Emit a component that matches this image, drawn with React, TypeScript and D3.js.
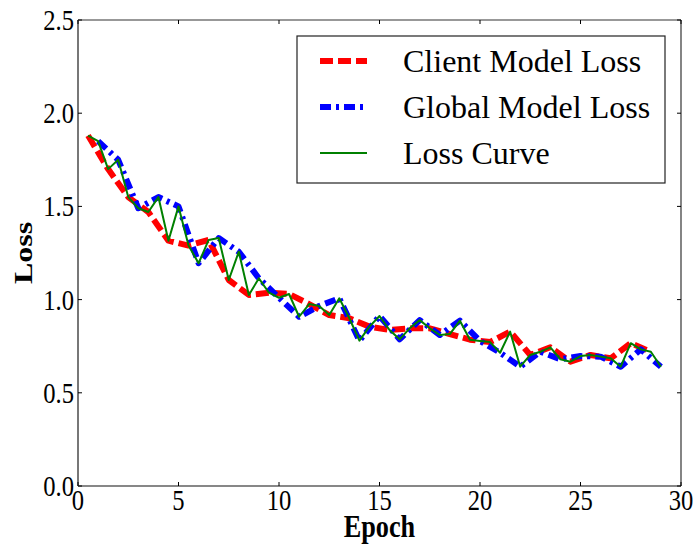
import React from "react";
import * as d3 from "d3";

// Loss recorded at the half-epochs (client) and at the whole epochs (global aggregation)
const clientEpochs = [0.5, 1.5, 2.5, 3.5, 4.5, 5.5, 6.5, 7.5, 8.5, 9.5, 10.5, 11.5, 12.5, 13.5, 14.5, 15.5, 16.5, 17.5, 18.5, 19.5, 20.5, 21.5, 22.5, 23.5, 24.5, 25.5, 26.5, 27.5, 28.5];
const clientLoss = [1.88, 1.7, 1.55, 1.47, 1.316, 1.29, 1.32, 1.105, 1.025, 1.037, 1.03, 0.976, 0.917, 0.9, 0.855, 0.837, 0.846, 0.846, 0.815, 0.785, 0.772, 0.828, 0.703, 0.744, 0.667, 0.703, 0.685, 0.766, 0.72];
const globalEpochs = [1, 2, 3, 4, 5, 6, 7, 8, 9, 10, 11, 12, 13, 14, 15, 16, 17, 18, 19, 20, 21, 22, 23, 24, 25, 26, 27, 28, 29];
const globalLoss = [1.85, 1.75, 1.49, 1.55, 1.5, 1.195, 1.33, 1.257, 1.114, 1.01, 0.908, 0.966, 1.007, 0.78, 0.912, 0.787, 0.89, 0.81, 0.887, 0.778, 0.715, 0.64, 0.72, 0.68, 0.697, 0.694, 0.64, 0.733, 0.64];

const xTicks = [0, 5, 10, 15, 20, 25, 30];
const yTicks = [0, 0.5, 1.0, 1.5, 2.0, 2.5];

const seriesNames = ["Client Model Loss", "Global Model Loss", "Loss Curve"];

type Pt = [number, number];

const W = 698;
const H = 547;
const M = { left: 78, right: 681, top: 20, bottom: 486 };
const FONT = "'Liberation Serif', 'Times New Roman', serif";

export default function App() {
  const x = d3.scaleLinear().domain([0, 30]).range([M.left, M.right]);
  const y = d3.scaleLinear().domain([0, 2.5]).range([M.bottom, M.top]);
  const line = d3
    .line<Pt>()
    .x((d) => x(d[0]))
    .y((d) => y(d[1]));

  const client: Pt[] = clientEpochs.map((e, i) => [e, clientLoss[i]]);
  const global: Pt[] = globalEpochs.map((e, i) => [e, globalLoss[i]]);
  // The combined curve alternates client and global values in time order
  const curve: Pt[] = [...client, ...global].sort((a, b) => a[0] - b[0]);

  const styles = [
    { color: "#ff0000", width: 6, dash: "13,5" },
    { color: "#0000ff", width: 6, dash: "11,5,3,5" },
    { color: "#008000", width: 2, dash: "none" },
  ];
  const data = [client, global, curve];

  const tickLen = 4;
  const legend = { x0: 297, y0: 36, x1: 665, y1: 183 };
  const rowY = [61, 107, 153];

  return (
    <svg
      width={W}
      height={H}
      style={{ position: "absolute", left: 0, top: 0, background: "#fff" }}
    >
      <rect x={0} y={0} width={W} height={H} fill="#fff" />
      <defs>
        <clipPath id="plotClip">
          <rect x={M.left} y={M.top} width={M.right - M.left} height={M.bottom - M.top} />
        </clipPath>
      </defs>

      <g clipPath="url(#plotClip)">
        {data.map((d, i) => (
          <path
            key={i}
            d={line(d) ?? ""}
            fill="none"
            stroke={styles[i].color}
            strokeWidth={styles[i].width}
            strokeDasharray={styles[i].dash}
            strokeLinejoin="round"
          />
        ))}
      </g>

      {/* frame */}
      <line x1={M.left} x2={M.right} y1={M.top} y2={M.top} stroke="#333" strokeWidth={1.2} />
      <line x1={M.left} x2={M.right} y1={M.bottom} y2={M.bottom} stroke="#111" strokeWidth={1.2} />
      <line x1={M.right} x2={M.right} y1={M.top} y2={M.bottom} stroke="#333" strokeWidth={1.2} />
      <line x1={M.left} x2={M.left} y1={M.top} y2={M.bottom} stroke="#777" strokeWidth={2} />

      {/* ticks */}
      {xTicks.map((t) => (
        <g key={"x" + t}>
          <line x1={x(t)} x2={x(t)} y1={M.bottom} y2={M.bottom - tickLen} stroke="#000" />
          <line x1={x(t)} x2={x(t)} y1={M.top} y2={M.top + tickLen} stroke="#000" />
          <text
            transform={`translate(${x(t)},${M.bottom + 24}) scale(0.82,1)`}
            textAnchor="middle"
            fontFamily={FONT}
            fontSize={30}
            fill="#000"
          >
            {String(t)}
          </text>
        </g>
      ))}
      {yTicks.map((t) => (
        <g key={"y" + t}>
          <line x1={M.left} x2={M.left + tickLen} y1={y(t)} y2={y(t)} stroke="#000" />
          <line x1={M.right} x2={M.right - tickLen} y1={y(t)} y2={y(t)} stroke="#000" />
          <text
            transform={`translate(${M.left - 4},${y(t) + 10}) scale(0.82,1)`}
            textAnchor="end"
            fontFamily={FONT}
            fontSize={30}
            fill="#000"
          >
            {t.toFixed(1)}
          </text>
        </g>
      ))}

      {/* axis titles */}
      <text
        transform={`translate(${(M.left + M.right) / 2},537) scale(0.82,1)`}
        textAnchor="middle"
        fontFamily={FONT}
        fontWeight="bold"
        fontSize={32}
        fill="#000"
      >
        Epoch
      </text>
      <text
        transform={`translate(32,${(M.top + M.bottom) / 2}) rotate(-90) scale(1,0.82)`}
        textAnchor="middle"
        fontFamily={FONT}
        fontWeight="bold"
        fontSize={32}
        fill="#000"
      >
        Loss
      </text>

      {/* legend */}
      <rect
        x={legend.x0}
        y={legend.y0}
        width={legend.x1 - legend.x0}
        height={legend.y1 - legend.y0}
        fill="#fff"
        stroke="#222"
        strokeWidth={1.2}
      />
      {seriesNames.map((name, i) => (
        <g key={name}>
          <line
            x1={320}
            x2={367}
            y1={rowY[i]}
            y2={rowY[i]}
            stroke={styles[i].color}
            strokeWidth={styles[i].width}
            strokeDasharray={styles[i].dash}
          />
          <text x={403} y={rowY[i] + 11} fontFamily={FONT} fontSize={32} fill="#000">
            {name}
          </text>
        </g>
      ))}
    </svg>
  );
}
